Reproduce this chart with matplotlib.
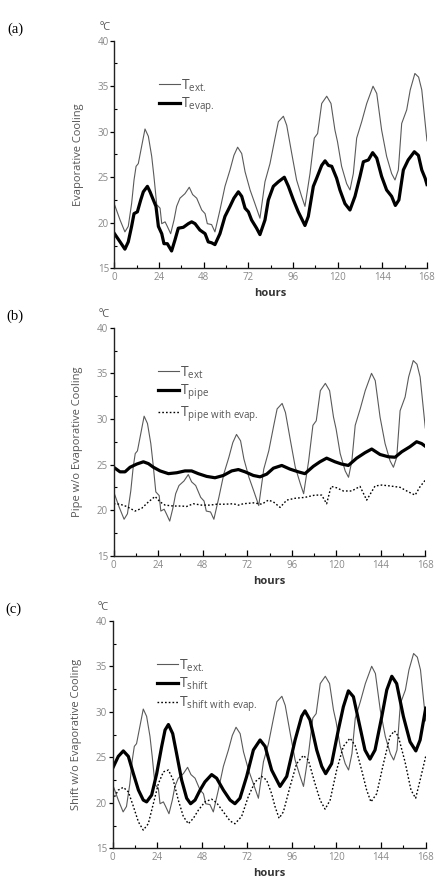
import numpy as np
import matplotlib
matplotlib.use("Agg")
import matplotlib.pyplot as plt
from matplotlib.ticker import MultipleLocator

plt.rcParams['font.family'] = ['Open Sans', 'DejaVu Sans']
plt.rcParams['mathtext.fontset'] = 'custom'
plt.rcParams['mathtext.rm'] = 'Open Sans'
plt.rcParams['mathtext.default'] = 'regular'

# outside temperature (same curve in the three panels)
ext_h = [0, 3, 5.6, 7.4, 9.2, 10.5, 11.6, 12.8, 14.6, 16.4, 18.2, 20, 21.2, 22.7, 24.5,
         25.4, 27.2, 28.4, 30.2, 32, 33.4, 35.2, 37.9, 40.2, 42, 44.2, 46.9, 48.7, 49.9,
         52.2, 54, 56.7, 59.4, 62.1, 64.2, 66.2, 68.4, 70.2, 72.9, 75.5, 78.2, 80.9, 83.6,
         86.3, 88.1, 90.8, 92.6, 95.3, 97.9, 100.6, 102.4, 105.1, 107.4, 109.2, 111.4,
         114.1, 116.4, 118.5, 119.9, 122.1, 124.8, 126.6, 128.4, 130.2, 132.9, 135.6, 139,
         141, 143.6, 146.3, 149, 150.8, 152.6, 154.4, 157.1, 159, 161.5, 163.5, 165.2, 168]
ext_t = [22.0, 20.3, 19.0, 19.6, 22.1, 24.7, 26.2, 26.5, 28.4, 30.3, 29.5, 27.3, 25.1, 22.0, 21.6,
         19.9, 20.1, 19.6, 18.8, 20.3, 21.8, 22.7, 23.2, 23.9, 23.1, 22.7, 21.4, 21.0, 19.9,
         19.8, 19.0, 21.4, 24.0, 25.8, 27.4, 28.3, 27.6, 25.6, 23.6, 22.1, 20.5, 24.5, 26.5,
         29.3, 31.1, 31.7, 30.7, 27.6, 24.7, 22.9, 21.8, 25.4, 29.3, 29.8, 33.1,
         33.9, 33.1, 30.2, 28.9, 26.2, 24.3, 23.6, 25.4, 29.3, 31.1, 33.1, 35.0,
         34.2, 30.2, 27.3, 25.4, 24.7, 25.8, 30.9, 32.4, 34.6, 36.4, 36.0, 34.6, 29.0]

# (a) evaporative cooling
evap_h = [0, 3, 5.6, 7.4, 9.2, 10.5, 12.3, 14.1, 15.5, 17.7, 19.1, 20.9, 22.3, 23.6, 25.4,
          26.6, 28.4, 30.7, 32.5, 34.3, 37, 39.7, 41.5, 43.3, 45.9, 48.7, 50.4, 52.2, 54,
          56.7, 59.4, 62.1, 64.2, 66.6, 68.4, 70.2, 72, 73.7, 76.4, 78.2, 80.9, 82.7, 85.4,
          88.1, 91.3, 93.5, 96.2, 98.8, 102.4, 104.2, 106.9, 108.7, 111.4, 113.2, 115,
          116.8, 119.4, 121.2, 123.9, 126.6, 129.3, 132, 133.8, 136.5, 138.8, 141, 143.6,
          146.3, 149, 151, 152.9, 155.3, 157.9, 161.2, 163.4, 165.2, 167, 168]
evap_t = [18.8, 17.9, 17.1, 17.9, 19.6, 21.0, 21.2, 22.5, 23.4, 24.0, 23.4, 22.5, 21.8, 19.6, 18.8,
          17.7, 17.7, 16.9, 18.1, 19.4, 19.5, 19.9, 20.1, 19.9, 19.2, 18.8, 17.9, 17.8, 17.6,
          18.8, 20.7, 21.8, 22.7, 23.4, 22.9, 21.6, 21.2, 20.3, 19.4, 18.7, 20.3, 22.5, 24.0,
          24.5, 25.0, 24.0, 22.5, 21.2, 19.7, 20.7, 24.0, 24.9, 26.3, 26.8, 26.3,
          26.2, 24.9, 23.6, 22.1, 21.4, 22.9, 25.1, 26.7, 26.9, 27.7, 27.1, 25.1,
          23.6, 22.9, 21.9, 22.5, 25.8, 26.9, 27.8, 27.4, 25.8, 24.9, 24.2]

# (b) pipe
pipe_h = [0, 3.4, 6.1, 8.8, 12.4, 16, 18.7, 21.4, 25, 29.5, 34, 38.4, 42, 45.6, 50.1, 54.6,
          59.1, 63.6, 67.2, 70.8, 75.3, 78.9, 82.5, 86.1, 90.6, 95, 99.5, 103.1, 107.6,
          111.2, 114.8, 119.3, 122.9, 126.5, 131, 135.5, 139.1, 143.6, 148.1, 151.7, 155.3,
          159.7, 163.3, 166, 168]
pipe_t = [24.7, 24.2, 24.2, 24.7, 25.05, 25.3, 25.1, 24.7, 24.3, 24.0, 24.1, 24.3, 24.3, 24.0,
          23.7, 23.55, 23.8, 24.3, 24.45, 24.2, 23.8, 23.65, 23.95, 24.6, 24.9, 24.5, 24.2,
          24.0, 24.8, 25.3, 25.7, 25.3, 25.05, 24.9, 25.7, 26.3, 26.7, 26.1, 25.85, 25.8,
          26.4, 26.95, 27.5, 27.3, 27.0]
pipe_ev_h = [0, 3.4, 7, 11.5, 15.1, 18.7, 22.3, 25, 27.7, 32.2, 36.6, 39.3, 42.9, 47.4, 51.9,
             55.6, 60, 64.5, 67.2, 69.9, 75.3, 79.8, 83.4, 86.1, 89.7, 93.3, 97.8, 103.1,
             108.5, 112.1, 114.8, 117.2, 120.2, 123.8, 128.3, 132.8, 136.4, 140.9, 144.5,
             149, 154.4, 158.9, 162.5, 165.1, 168]
pipe_ev_t = [20.7, 20.65, 20.4, 19.9, 20.2, 20.9, 21.5, 20.9, 20.55, 20.45, 20.45, 20.4, 20.7,
             20.55, 20.55, 20.65, 20.65, 20.7, 20.55, 20.7, 20.8, 20.65, 21.1, 20.9, 20.3,
             21.1, 21.3, 21.4, 21.65, 21.65, 20.7, 22.6, 22.45, 22.1, 22.1, 22.6, 21.1,
             22.65, 22.75, 22.65, 22.5, 22.0, 21.65, 22.55, 23.3]

# (c) shift
shift_h = [0, 3, 5.7, 8.4, 11.1, 13.8, 16.4, 18.2, 20.9, 23.6, 26.3, 28.1, 29.9, 32.2, 34.3,
           37, 39.7, 41.8, 44.2, 46.9, 49.5, 53.1, 55.8, 59.4, 63, 65.6, 68.3, 71.9, 75.5,
           79.1, 81.8, 85.3, 89.8, 93.4, 97.9, 101.4, 103.2, 105.9, 109.5, 112.2, 114.3,
           117.5, 121.1, 123.8, 126.5, 129.2, 132.7, 135.4, 138.1, 140.8, 144.4, 147.1,
           149.8, 152.4, 156, 159.6, 162.7, 165, 168]
shift_t = [23.8, 25.1, 25.7, 25.1, 23.2, 21.4, 20.3, 20.1, 20.85, 23.2, 26.2, 28.0, 28.6, 27.6,
           25.4, 22.5, 20.5, 19.9, 20.3, 21.4, 22.3, 23.1, 22.7, 21.4, 20.3, 19.9, 20.5, 22.9,
           25.8, 26.9, 26.2, 23.6, 21.8, 22.9, 26.9, 29.5, 30.1, 29.1, 25.8, 24.0, 23.2,
           24.3, 28.0, 30.55, 32.3, 31.65, 28.35, 25.8, 24.8, 25.8, 29.45, 32.4,
           33.9, 33.1, 29.5, 26.7, 25.7, 26.9, 30.4]
shift_ev_h = [0, 3, 5.7, 8.4, 11.1, 13.8, 16.4, 19.1, 21.8, 24.5, 27.2, 29.9, 32.5, 35.2, 37.9,
              40.6, 43.3, 46, 49.5, 53.1, 55.8, 59.4, 63, 65.6, 69.2, 72.8, 76.4, 79.9, 82.6,
              85.3, 87.1, 89.3, 91.6, 95.2, 98.7, 102.3, 105, 108.6, 111.3, 114, 116.7,
              120.2, 123.8, 127.4, 130.1, 133.6, 136.3, 138.6, 141.7, 145.3, 148.8, 151.2,
              153.3, 156.9, 160.1, 162.6, 165, 168]
shift_ev_t = [20.3, 21.4, 21.7, 21.2, 19.6, 17.9, 17.0, 17.7, 19.9, 22.1, 23.4, 23.6, 22.5, 20.3,
              18.5, 17.7, 18.3, 19.2, 20.1, 20.4, 20.0, 19.0, 18.0, 17.7, 18.5, 20.7, 22.3,
              22.9, 22.5, 21.0, 19.6, 18.3, 19.0, 21.8, 24.3, 25.2, 24.7, 22.1, 20.3, 19.3,
              20.3, 23.6, 26.2, 27.1, 26.3, 23.6, 21.4, 20.1, 21.0, 24.3, 27.3, 27.9, 27.3,
              24.5, 21.4, 20.5, 22.5, 25.1]

panel_tags = ['(a)', '(b)', '(c)']
y_titles = ['Evaporative Cooling', 'Pipe w/o Evaporative Cooling',
            'Shift w/o Evaporative Cooling']
x_ticks = [0, 24, 48, 72, 96, 120, 144, 168]

fig = plt.figure(figsize=(4.36, 8.81), dpi=100)
rects = [[0.2626, 0.6955, 0.7167, 0.2583],
         [0.2608, 0.3692, 0.7147, 0.2588],
         [0.2585, 0.0371, 0.7179, 0.2583]]
axes = [fig.add_axes(r) for r in rects]

thin = dict(color='#5a5a5a', lw=0.8)
thick = dict(color='black', lw=2.3)
dots = dict(color='black', lw=1.0, linestyle=(0, (1.2, 1.5)))

ax = axes[0]
ax.plot(ext_h, ext_t, label=r'T$_{ext.}$', **thin)
ax.plot(evap_h, evap_t, label=r'T$_{evap.}$', **thick)

ax = axes[1]
ax.plot(ext_h, ext_t, label=r'T$_{ext}$', **thin)
ax.plot(pipe_h, pipe_t, label=r'T$_{pipe}$', **thick)
ax.plot(pipe_ev_h, pipe_ev_t, label=r'T$_{pipe\ with\ evap.}$', **dots)

ax = axes[2]
ax.plot(ext_h, ext_t, label=r'T$_{ext.}$', **thin)
ax.plot(shift_h, shift_t, label=r'T$_{shift}$', **thick)
ax.plot(shift_ev_h, shift_ev_t, label=r'T$_{shift\ with\ evap.}$', **dots)

for ax, tag, yt in zip(axes, panel_tags, y_titles):
    ax.set_xlim(0, 168)
    ax.set_ylim(15, 40)
    ax.set_xticks(x_ticks)
    ax.xaxis.set_minor_locator(MultipleLocator(12))
    ax.yaxis.set_major_locator(MultipleLocator(5))
    ax.yaxis.set_minor_locator(MultipleLocator(2.5))
    for s in ['top', 'right']:
        ax.spines[s].set_visible(False)
    for s in ['left', 'bottom']:
        ax.spines[s].set_linewidth(1.0)
        ax.spines[s].set_color('#222222')
    ax.tick_params(axis='x', which='major', direction='in', length=4, width=0.9,
                   labelsize=7, labelcolor='#888888', pad=3)
    ax.tick_params(axis='x', which='minor', direction='in', length=2.5, width=0.8)
    ax.tick_params(axis='y', which='major', direction='out', length=3, width=0.9,
                   labelsize=7, labelcolor='#888888', pad=1)
    ax.tick_params(axis='y', which='minor', direction='in', length=2.5, width=0.8)
    ax.set_ylabel(yt, fontsize=8, color='#555555')
    ax.yaxis.set_label_coords(-0.098, 0.5)
    ax.set_xlabel('hours', fontsize=8, color='#333333', fontweight='bold')
    ax.xaxis.set_label_coords(0.5, -0.088)
    ax.text(-0.03, 1.06, 'ºC', transform=ax.transAxes, fontsize=8, color='#555555',
            ha='center', va='center')
    ax.text(-0.318, 1.05, tag, transform=ax.transAxes, fontsize=10.5,
            family='Liberation Serif', ha='center', va='center')
    ax.legend(loc='upper left', bbox_to_anchor=(0.12, 0.87), frameon=False, fontsize=10,
              handlelength=1.5, handletextpad=0.1, labelspacing=0.15, borderpad=0,
              labelcolor='#555555')

fig.savefig('out.png', dpi=100)
